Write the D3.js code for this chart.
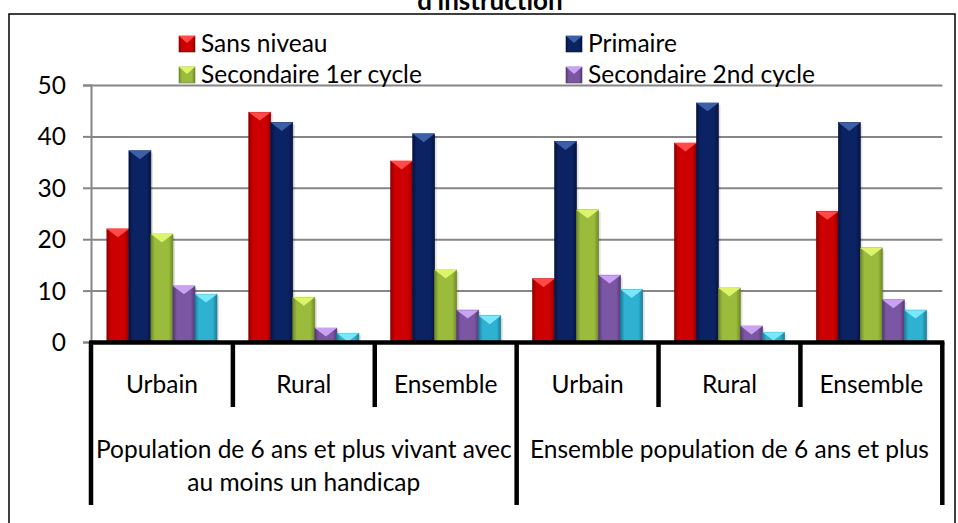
<!DOCTYPE html>
<html>
<head>
<meta charset="utf-8">
<script src="https://cdn.jsdelivr.net/npm/d3@7"></script>
<style>
  body { margin: 0; background: #fff; }
  svg text { font-family: Lato, "Open Sans", sans-serif; fill: #000; font-variant-ligatures: none; }
</style>
</head>
<body>
<svg id="chart"></svg>
<script>
// data
var categories = ["Urbain", "Rural", "Ensemble", "Urbain", "Rural", "Ensemble"]
var groups = [
  {label: ["Population de 6 ans et plus vivant avec", "au moins un handicap"], from: 0, to: 3},
  {label: ["Ensemble population de 6 ans et plus"], from: 3, to: 6}
]
var seriesNames = ["Sans niveau", "Primaire", "Secondaire 1er cycle", "Secondaire 2nd cycle", "Supérieur"]
var sansNiveau = [22.0, 44.7, 35.2, 12.3, 38.7, 25.4]
var primaire = [37.2, 42.7, 40.5, 39.0, 46.5, 42.7]
var secondaire1 = [21.0, 8.7, 14.0, 25.7, 10.5, 18.3]
var secondaire2 = [10.9, 2.7, 6.2, 13.0, 3.1, 8.2]
var superieur = [9.3, 1.7, 5.1, 10.2, 1.9, 6.2]
var yTicks = [0, 10, 20, 30, 40, 50]

var allSeries = [sansNiveau, primaire, secondaire1, secondaire2, superieur]

// colours: main, dark edge, light bevel
var colors = [
  {main: "#cc0000", dark: "#8c0000", light: "#ff4a4a"},
  {main: "#0b2263", dark: "#061440", light: "#3d5fa8"},
  {main: "#9bbb3c", dark: "#6f8a25", light: "#ddf36a"},
  {main: "#7b56a3", dark: "#553875", light: "#c9a2f2"},
  {main: "#2fb2d2", dark: "#1a7f99", light: "#7ee6fb"}
]

var width = 958
var height = 523
var margin = {top: 85, left: 91, right: 15, bottom: 181}
var plotRight = width - margin.right - 0.7   // ~943
var zeroY = height - margin.bottom           // 342
var fontSize = 24.5

var svg = d3.select("#chart").attr("width", width).attr("height", height)

// gradients for bars
var defs = svg.append("defs")
colors.forEach((c, i) => {
  var g = defs.append("linearGradient").attr("id", "grad" + i)
    .attr("x1", "0").attr("x2", "1").attr("y1", "0").attr("y2", "0")
  g.append("stop").attr("offset", "0").attr("stop-color", c.dark)
  g.append("stop").attr("offset", "0.18").attr("stop-color", c.main)
  g.append("stop").attr("offset", "0.8").attr("stop-color", c.main)
  g.append("stop").attr("offset", "1").attr("stop-color", c.dark)
})

// outer frame
svg.append("rect")
  .attr("x", 9).attr("y", 14)
  .attr("width", 946).attr("height", 530)
  .attr("fill", "none").attr("stroke", "#000").attr("stroke-width", 1.5)

// title (cut at the top, as in the source)
svg.append("text")
  .attr("x", 490).attr("y", 10)
  .attr("text-anchor", "middle")
  .attr("font-size", 26).attr("font-weight", "bold")
  .text("d'instruction")

var x0 = d3.scaleBand()
  .domain(d3.range(categories.length))
  .range([margin.left, plotRight])
  .padding(0)

var x1 = d3.scaleBand()
  .domain(d3.range(allSeries.length))
  .range([0, x0.bandwidth()])
  .paddingInner(0)
  .paddingOuter(0.72)

var y = d3.scaleLinear()
  .domain([0, 50])
  .range([zeroY, margin.top])

// gridlines
svg.append("g")
  .attr("transform", `translate(${margin.left},0)`)
  .call(d3.axisLeft(y).tickValues(yTicks).tickSize(-(plotRight - margin.left)).tickFormat(""))
  .call(g => g.select(".domain").remove())
  .call(g => g.selectAll("line").attr("stroke", "#868686").attr("stroke-width", 2))

// y axis
svg.append("g")
  .attr("transform", `translate(${margin.left},0)`)
  .call(d3.axisLeft(y).tickValues(yTicks).tickSize(8).tickPadding(17))
  .call(g => g.select(".domain").attr("stroke", "#868686").attr("stroke-width", 2))
  .call(g => g.selectAll(".tick line").attr("stroke", "#868686").attr("stroke-width", 2))
  .call(g => g.selectAll(".tick text").attr("font-size", fontSize).attr("font-family", "Lato").attr("dy", "0.35em"))

// bars
var barData = []
allSeries.forEach((vals, s) => {
  vals.forEach((v, c) => barData.push({s: s, c: c, v: v}))
})

var bars = svg.append("g").selectAll("g.bar").data(barData).enter().append("g").attr("class", "bar")

bars.append("rect")
  .attr("x", d => x0(d.c) + x1(d.s) + 2)
  .attr("y", d => y(d.v) + 2)
  .attr("width", x1.bandwidth())
  .attr("height", d => zeroY - y(d.v) - 2)
  .attr("fill", "#000").attr("opacity", 0.12)

bars.append("rect")
  .attr("x", d => x0(d.c) + x1(d.s))
  .attr("y", d => y(d.v))
  .attr("width", x1.bandwidth())
  .attr("height", d => zeroY - y(d.v))
  .attr("fill", d => "url(#grad" + d.s + ")")
  .attr("stroke", d => colors[d.s].dark).attr("stroke-width", 0.6)

bars.append("path")
  .attr("d", d => {
    var bx = x0(d.c) + x1(d.s), bw = x1.bandwidth(), top = y(d.v)
    var h = Math.min(bw * 0.38, zeroY - top)
    return `M${bx},${top}L${bx + bw},${top}L${bx + bw / 2},${top + h}Z`
  })
  .attr("fill", d => colors[d.s].light)

// category axis (thick black lines)
var axisG = svg.append("g")
axisG.append("line")
  .attr("x1", margin.left - 2).attr("x2", plotRight + 2)
  .attr("y1", zeroY + 0.5).attr("y2", zeroY + 0.5)
  .attr("stroke", "#000").attr("stroke-width", 4.5)

var dividers = d3.range(categories.length + 1)
axisG.selectAll("line.div").data(dividers).enter().append("line")
  .attr("class", "div")
  .attr("x1", i => i < categories.length ? x0(i) : plotRight)
  .attr("x2", i => i < categories.length ? x0(i) : plotRight)
  .attr("y1", zeroY)
  .attr("y2", i => (i % 3 === 0) ? 505 : 407)
  .attr("stroke", "#000").attr("stroke-width", 4.5)

axisG.selectAll("text.cat").data(categories).enter().append("text")
  .attr("class", "cat")
  .attr("x", (d, i) => x0(i) + x0.bandwidth() / 2)
  .attr("y", 393)
  .attr("text-anchor", "middle")
  .attr("font-size", fontSize)
  .text(d => d)

groups.forEach(g => {
  var cx = (x0(g.from) + (g.to < categories.length ? x0(g.to) : plotRight)) / 2
  g.label.forEach((line, k) => {
    axisG.append("text")
      .attr("x", cx).attr("y", 458 + k * 32.5)
      .attr("text-anchor", "middle")
      .attr("font-size", fontSize)
      .text(line)
  })
})

// legend (only four entries are visible)
var legendPos = [
  {x: 179, y: 36}, {x: 566, y: 36}, {x: 179, y: 67}, {x: 566, y: 67}
]
var legend = svg.append("g").selectAll("g").data(legendPos).enter().append("g")
  .attr("transform", d => `translate(${d.x},${d.y})`)

legend.append("rect")
  .attr("width", 16).attr("height", 16)
  .attr("fill", (d, i) => "url(#grad" + i + ")")
  .attr("stroke", (d, i) => colors[i].dark).attr("stroke-width", 0.6)
legend.append("path")
  .attr("d", "M0,0L16,0L8,7Z")
  .attr("fill", (d, i) => colors[i].light)
legend.append("text")
  .attr("x", 22).attr("y", 16)
  .attr("font-size", fontSize)
  .text((d, i) => seriesNames[i])
</script>
</body>
</html>
